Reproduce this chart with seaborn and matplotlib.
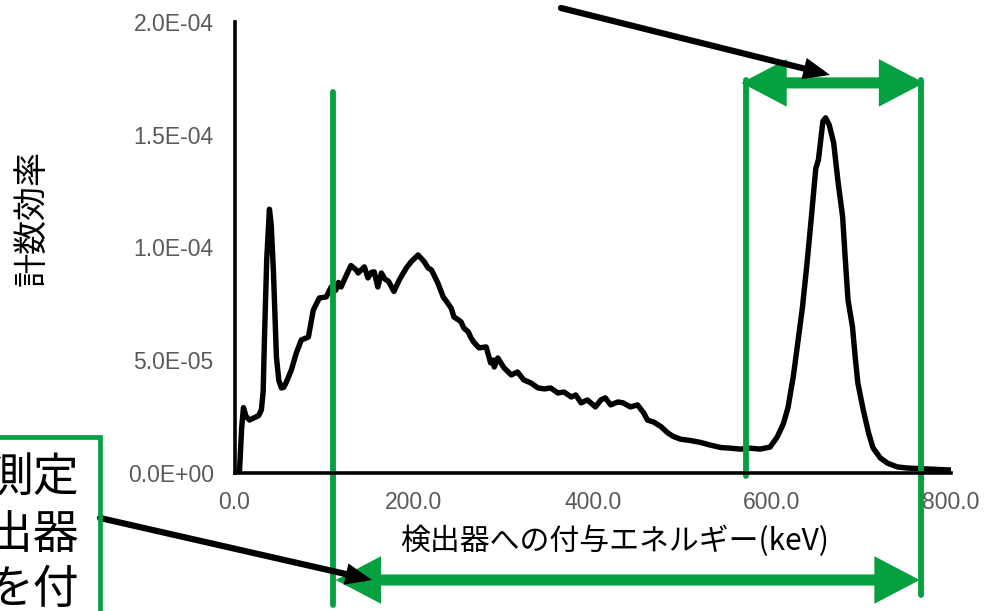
import numpy as np
import matplotlib
matplotlib.use("Agg")
import matplotlib.pyplot as plt
import seaborn as sns
from matplotlib.patches import Rectangle, FancyArrowPatch

# spectrum: energy (keV) and counting efficiency (x 1e-5)
energy_kev = [0, 3, 5.6, 8, 10, 13, 16.7, 22, 27, 30, 32, 33.4, 36, 39, 41, 43.5, 46.8,
              49.5, 52.4, 55, 58, 63.5, 69, 74.6, 82.5, 88, 94.7, 102.5, 108, 113, 116,
              119, 125, 130, 136, 138, 145, 149, 153, 156, 160, 164, 168, 172, 178, 184,
              186, 192, 197, 205, 212, 216, 220, 227, 233, 238, 242, 245, 250, 253, 256,
              261, 264, 267, 273, 281, 286, 289, 290, 294, 301, 309, 316, 323, 331, 339,
              346, 353, 361, 368, 376, 381, 387, 394, 403, 409, 414, 420, 428, 434, 442,
              450, 457, 461, 468, 476, 484, 490, 498, 509, 520, 531, 543, 554, 565, 576,
              587, 598, 606, 613, 618, 624, 629, 634, 639, 644, 649, 652, 657, 660, 664,
              669, 674, 679, 682, 685, 690, 693, 696, 702, 708, 713, 721, 729, 740, 751,
              773, 800]
eff_1e5 = [0.0, 0.0, 0.1, 2.0, 2.9, 2.5, 2.35, 2.45, 2.55, 2.8, 3.6, 5.9, 9.5, 11.7, 11.0,
           8.9, 5.15, 4.1, 3.77, 3.8, 4.04, 4.57, 5.32, 5.9, 6.03, 7.23, 7.76, 7.81, 8.25,
           8.1, 8.45, 8.25, 8.78, 9.2, 9.0, 8.87, 9.14, 8.65, 8.9, 8.92, 8.25, 8.87, 8.6,
           8.5, 8.05, 8.56, 8.7, 9.1, 9.36, 9.67, 9.36, 9.1, 9.0, 8.43, 7.81, 7.54, 7.3,
           6.92, 6.79, 6.7, 6.43, 6.26, 6.0, 5.81, 5.55, 5.59, 4.88, 5.01, 4.7, 5.1, 4.66,
           4.35, 4.48, 4.13, 3.99, 3.77, 3.73, 3.77, 3.55, 3.59, 3.37, 3.46, 3.11, 3.24,
           2.93, 3.24, 3.33, 3.02, 3.15, 3.11, 2.93, 3.02, 2.66, 2.35, 2.26, 2.06, 1.77,
           1.62, 1.5, 1.44, 1.36, 1.24, 1.13, 1.1, 1.06, 1.1, 1.06, 1.15, 1.6, 2.2, 2.9,
           4.3, 5.8, 7.3, 9.2, 11.3, 13.5, 13.9, 15.6, 15.75, 15.44, 14.64, 12.87, 11.36,
           9.45, 7.68, 6.48, 5.15, 3.99, 2.8, 1.77, 1.11, 0.67, 0.44, 0.27, 0.22, 0.18, 0.13]

x_ticks = [0, 200, 400, 600, 800]
y_ticks = [0, 5e-5, 1e-4, 1.5e-4, 2e-4]

x_label = "検出器への付与エネルギー(keV)"
y_label = "計数効率"
box_lines = ["測定", "検出器", "を付"]

# energy window markers (keV)
win_low = 110
win_peak_lo = 571
win_peak_hi = 766

GREEN = "#05A040"
W, H = 986, 611

sns.set_theme(style="white")
plt.rcParams["font.family"] = ["Liberation Sans", "Noto Sans CJK JP", "DejaVu Sans"]
JP = ["Noto Sans CJK JP", "DejaVu Sans"]


def fpx(x, y):
    # pixel position (from top-left) -> figure fraction
    return (x / W, 1 - y / H)


fig = plt.figure(figsize=(W / 100, H / 100), dpi=100)
ax = fig.add_axes([234.5 / W, 1 - 473 / H, 716.5 / W, 451 / H])

energy = np.array(energy_kev)
eff = np.array(eff_1e5) * 1e-5
sns.lineplot(x=energy, y=eff, ax=ax, color="black", linewidth=3.9, sort=False,
             solid_joinstyle="round", solid_capstyle="round")

ax.set_xlim(0, 800)
ax.set_ylim(0, 2e-4)
ax.set_xticks(x_ticks)
ax.set_xticklabels([f"{v:.1f}" for v in x_ticks])
ax.set_yticks(y_ticks)
ax.set_yticklabels([f"{v:.1E}" for v in y_ticks])
ax.tick_params(axis="both", length=0, labelsize=16.5, labelcolor="#595959")
ax.tick_params(axis="y", pad=15)
ax.tick_params(axis="x", pad=13)
ax.set_xlabel("")
ax.set_ylabel("")
for s in ["top", "right"]:
    ax.spines[s].set_visible(False)
for s in ["left", "bottom"]:
    ax.spines[s].set_color("black")
    ax.spines[s].set_linewidth(2.6)

# green window lines (go beyond the axes)
ax.plot([win_low, win_low], [1.69e-4, -5.85e-5], color=GREEN, lw=4.2, clip_on=False)
ax.plot([win_peak_lo, win_peak_lo], [1.743e-4, -1.5e-6], color=GREEN, lw=4.2, clip_on=False)
ax.plot([win_peak_hi, win_peak_hi], [1.743e-4, -5.41e-5], color=GREEN, lw=4.2, clip_on=False)

arrow_style = "<|-|>,head_length=20,head_width=10.5"
for (x0, x1, y) in [(566, 770, 1.73e-4), (113, 765, -4.745e-5)]:
    ax.annotate("", xy=(x1, y), xytext=(x0, y), annotation_clip=False,
                arrowprops=dict(arrowstyle=arrow_style, color=GREEN, lw=8,
                                mutation_scale=1, shrinkA=0, shrinkB=0,
                                joinstyle="miter"))

# black pointer arrows
black_style = "-|>,head_length=11,head_width=4.5"
for start, end in [((561, 8), (830, 75)), ((100, 518), (372, 580))]:
    fig.add_artist(FancyArrowPatch(fpx(*start), fpx(*end), transform=fig.transFigure,
                                   arrowstyle=black_style, mutation_scale=1,
                                   color="black", lw=4.5, shrinkA=0, shrinkB=0,
                                   joinstyle="miter"))

# axis titles
fig.text(*fpx(615, 541), x_label, family=JP, fontsize=21.5, ha="center", va="center",
         color="black")
fig.text(*fpx(32, 218), y_label, family=JP, fontsize=24.5, ha="center", va="center",
         rotation=90, color="black")

# clipped text box at the lower left
fig.add_artist(Rectangle(fpx(-60, 700), 160 / W, 263 / H, transform=fig.transFigure,
                         fill=False, edgecolor=GREEN, lw=3.4))
for i, line in enumerate(box_lines):
    fig.text(*fpx(79, 478 + 56 * i), line, family=JP, fontsize=33, ha="right",
             va="center", color="black")

fig.savefig("out.png", dpi=100)
